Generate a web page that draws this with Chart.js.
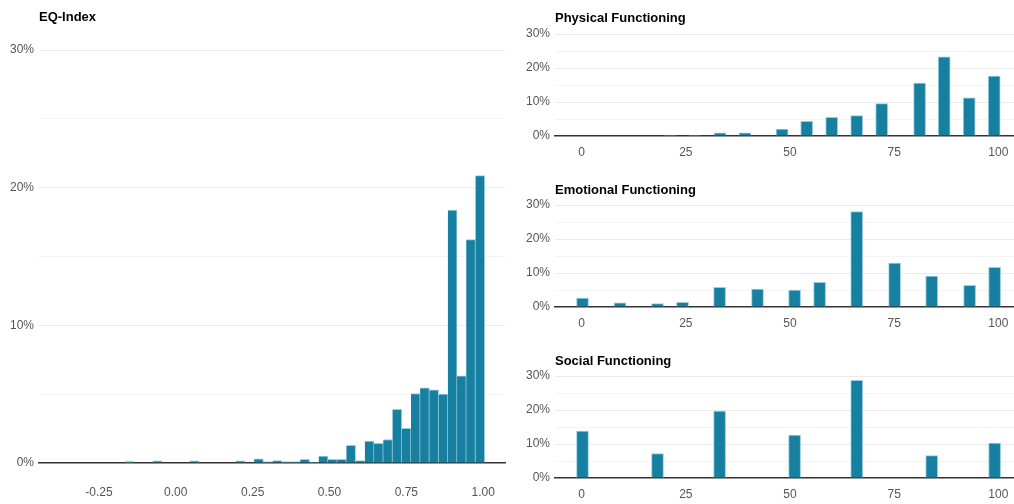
<!DOCTYPE html>
<html>
<head>
<meta charset="utf-8">
<script src="https://cdn.jsdelivr.net/npm/chart.js@4.4.1/dist/chart.umd.min.js"></script>
<style>
  html, body { margin: 0; padding: 0; background: #fff; width: 1014px; height: 504px; overflow: hidden; }
  .panel { position: absolute; }
  .titel { position: absolute; font: bold 13px "Liberation Sans", Arial, sans-serif; color: #000; white-space: nowrap; }
</style>
</head>
<body>
<div class="panel" style="left:0;top:0;width:515px;height:504px"><canvas id="eqIndex"></canvas></div>
<div class="titel" style="left:39px;top:9px">EQ-Index</div>

<div class="panel" style="left:515px;top:0;width:499px;height:171px"><canvas id="physical"></canvas></div>
<div class="titel" style="left:555px;top:10px">Physical Functioning</div>

<div class="panel" style="left:515px;top:171px;width:499px;height:171px"><canvas id="emotional"></canvas></div>
<div class="titel" style="left:555px;top:182px">Emotional Functioning</div>

<div class="panel" style="left:515px;top:342px;width:499px;height:171px"><canvas id="social"></canvas></div>
<div class="titel" style="left:555px;top:353px">Social Functioning</div>

<script>
// ================= DATA =================
// EQ-Index histogram: bin centres (width 0.03) and share of respondents in %
const eqBins = [
  -0.15, -0.12, -0.09, -0.06, -0.03, 0.00, 0.03, 0.06, 0.09, 0.12,
  0.15, 0.18, 0.21, 0.24, 0.27, 0.30, 0.33, 0.36, 0.39, 0.42,
  0.45, 0.48, 0.51, 0.54, 0.57, 0.60, 0.63, 0.66, 0.69, 0.72,
  0.75, 0.78, 0.81, 0.84, 0.87, 0.90, 0.93, 0.96, 0.99
];
const eqPct = [
  0.1, 0, 0, 0.15, 0, 0, 0, 0.15, 0, 0,
  0, 0, 0.15, 0, 0.3, 0.08, 0.17, 0.08, 0.08, 0.27,
  0.07, 0.5, 0.27, 0.27, 1.28, 0.17, 1.59, 1.42, 1.71, 3.89,
  2.51, 5.05, 5.46, 5.31, 5.0, 18.38, 6.33, 16.23, 20.87
];
const eqTicks = [-0.25, 0, 0.25, 0.5, 0.75, 1];

// Physical functioning
const physScores = [21.2, 27.2, 33.2, 39.2, 48.1, 54.0, 60.0, 66.0, 72.0, 81.1, 87.0, 93.0, 99.0];
const physPct = [0.3, 0.3, 0.9, 0.9, 2.0, 4.3, 5.5, 6.0, 9.5, 15.6, 23.3, 11.2, 17.6];

// Emotional functioning
const emoScores = [0.2, 9.2, 18.2, 24.2, 33.1, 42.2, 51.1, 57.1, 66.0, 75.1, 84.0, 93.1, 99.1];
const emoPct = [2.65, 1.2, 1.0, 1.4, 5.8, 5.3, 5.0, 7.25, 28.1, 12.9, 9.1, 6.4, 11.7];

// Social functioning
const socScores = [0.2, 18.2, 33.1, 51.1, 66.0, 84.0, 99.1];
const socPct = [13.8, 7.2, 19.7, 12.6, 28.7, 6.6, 10.3];

const scoreTicks = [0, 25, 50, 75, 100];
const pctTicks = [0, 10, 20, 30];

// ================= STYLE =================
const BLAU = "#1780a1";
const RAND = "rgba(140,200,220,0.9)";
const FONT = { family: "'Liberation Sans', Arial, sans-serif", size: 12 };
const TICKFARBE = "#555555";

function punkte(xs, ys) {
  return xs.map((x, i) => ({ x: x, y: ys[i] }));
}

function yAchse(breite) {
  return {
    min: 0,
    max: 30,
    border: { display: false },
    grid: {
      drawTicks: false,
      color: (c) => (c.tick.value === 0 ? "rgba(0,0,0,0)" : c.tick.value % 10 === 0 ? "#ebebeb" : "#f4f4f4"),
      lineWidth: 1,
    },
    ticks: {
      stepSize: 5,
      padding: 5,
      color: TICKFARBE,
      font: FONT,
      autoSkip: false,
      callback: (v) => (pctTicks.includes(v) ? v + "%" : ""),
    },
    afterFit: (s) => { s.width = breite; },
  };
}

function xAchse(min, max, ticks, fmt, hoehe, pad) {
  return {
    type: "linear",
    min: min,
    max: max,
    offset: false,
    border: { display: true, color: "#333333", width: 1.5 },
    grid: { display: false, drawTicks: false },
    afterBuildTicks: (s) => { s.ticks = ticks.map((v) => ({ value: v })); },
    ticks: {
      padding: pad,
      color: TICKFARBE,
      font: FONT,
      maxRotation: 0,
      autoSkip: false,
      callback: fmt,
    },
    afterFit: (s) => {
      s.height = hoehe;
      s.paddingLeft = 0;
      s.paddingRight = 0;
    },
  };
}

function grundOptionen(xScale, yScale, padding) {
  return {
    responsive: true,
    maintainAspectRatio: false,
    animation: false,
    layout: { padding: padding },
    plugins: { legend: { display: false }, tooltip: { enabled: false }, title: { display: false } },
    scales: { x: xScale, y: yScale },
  };
}

// ================= EQ-INDEX =================
new Chart(document.getElementById("eqIndex"), {
  type: "bar",
  data: {
    datasets: [{
      data: punkte(eqBins, eqPct),
      backgroundColor: BLAU,
      borderColor: RAND,
      borderWidth: { top: 1, right: 1, left: 0, bottom: 0 },
      barPercentage: 1,
      categoryPercentage: 1,
      borderSkipped: "bottom",
    }],
  },
  options: grundOptionen(
    xAchse(-0.445, 1.071, eqTicks, (v) => v.toFixed(2), 41, 22),
    yAchse(39),
    { top: 50, right: 10, bottom: 0, left: 0 }
  ),
});

// ================= FUNCTIONING PANELS =================
function funktionsChart(id, xs, ys) {
  new Chart(document.getElementById(id), {
    type: "bar",
    data: {
      datasets: [{
        data: punkte(xs, ys),
        backgroundColor: BLAU,
        borderColor: RAND,
        borderWidth: { top: 1, right: 1, left: 1, bottom: 0 },
        barThickness: 12,
        borderSkipped: "bottom",
      }],
    },
    options: grundOptionen(
      xAchse(-6.4, 103.75, scoreTicks, (v) => String(v), 35, 9),
      yAchse(40),
      { top: 34, right: 0, bottom: 0, left: 0 }
    ),
  });
}

funktionsChart("physical", physScores, physPct);
funktionsChart("emotional", emoScores, emoPct);
funktionsChart("social", socScores, socPct);
</script>
</body>
</html>
